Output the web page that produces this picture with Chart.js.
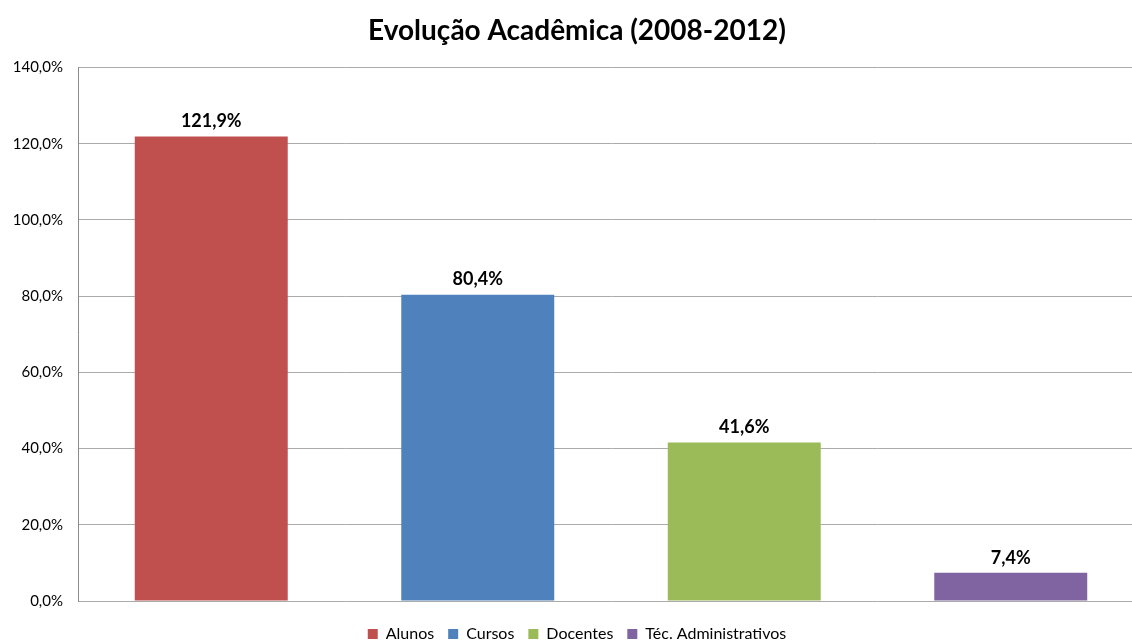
<!DOCTYPE html>
<html>
<head>
<meta charset="utf-8">
<script src="https://cdn.jsdelivr.net/npm/chart.js@4/dist/chart.umd.min.js"></script>
<style>
  html, body { margin: 0; padding: 0; background: #fff; overflow: hidden; }
  #wrap { position: relative; width: 1166px; height: 656px; }
</style>
</head>
<body>
<div id="wrap"><canvas id="c"></canvas></div>
<script>
const categories = ["Alunos", "Cursos", "Docentes", "Téc. Administrativos"];
const values = [121.9, 80.4, 41.6, 7.4];
const colors = ["#C0504D", "#4F81BD", "#9BBB59", "#8064A2"];
const yTicks = [0, 20, 40, 60, 80, 100, 120, 140];
const titleText = "Evolução Acadêmica (2008-2012)";

const fmt = v => v.toFixed(1).replace('.', ',') + '%';

const datasets = categories.map((name, i) => ({
  label: name,
  data: categories.map((_, j) => (j === i ? values[i] : null)),
  backgroundColor: colors[i],
  borderWidth: 0,
  categoryPercentage: 1.0,
  barPercentage: 0.574,
  skipNull: true
}));

const valueLabels = {
  id: 'valueLabels',
  afterDatasetsDraw(chart) {
    const ctx = chart.ctx;
    ctx.save();
    ctx.font = 'bold 18px Lato, "Open Sans", sans-serif';
    ctx.fillStyle = '#000';
    ctx.textAlign = 'center';
    ctx.textBaseline = 'bottom';
    chart.data.datasets.forEach((ds, di) => {
      const meta = chart.getDatasetMeta(di);
      meta.data.forEach((el, k) => {
        const v = ds.data[k];
        if (v === null || v === undefined) return;
        ctx.fillText(fmt(v), el.x, el.y - 6);
      });
    });
    ctx.restore();
  }
};

new Chart(document.getElementById('c'), {
  type: 'bar',
  data: { labels: categories, datasets },
  plugins: [valueLabels],
  options: {
    responsive: true,
    maintainAspectRatio: false,
    animation: false,
    layout: { padding: { left: 10, right: 22, top: 0, bottom: 4 } },
    plugins: {
      title: {
        display: true,
        text: titleText,
        color: '#000',
        font: { family: 'Lato, "Open Sans", sans-serif', size: 28, weight: 'bold' },
        padding: { top: 14, bottom: 20 }
      },
      legend: {
        position: 'bottom',
        labels: {
          color: '#000',
          font: { family: 'Lato, "Open Sans", sans-serif', size: 16 },
          boxWidth: 10,
          boxHeight: 10,
          padding: 14
        }
      },
      tooltip: { enabled: false }
    },
    scales: {
      x: {
        afterFit: s => { s.height = 11; },
        ticks: { display: false },
        grid: { display: false },
        border: { display: false }
      },
      y: {
        min: 0,
        max: 140,
        afterBuildTicks: s => { s.ticks = yTicks.map(v => ({ value: v })); },
        afterFit: s => { s.width = 68; },
        ticks: {
          callback: v => fmt(v),
          color: '#000',
          font: { family: 'Lato, "Open Sans", sans-serif', size: 15 },
          padding: 15
        },
        grid: { color: '#ababab', lineWidth: 1, drawTicks: false },
        border: { display: true, color: '#8c8c8c', width: 1 }
      }
    }
  }
});
</script>
</body>
</html>
